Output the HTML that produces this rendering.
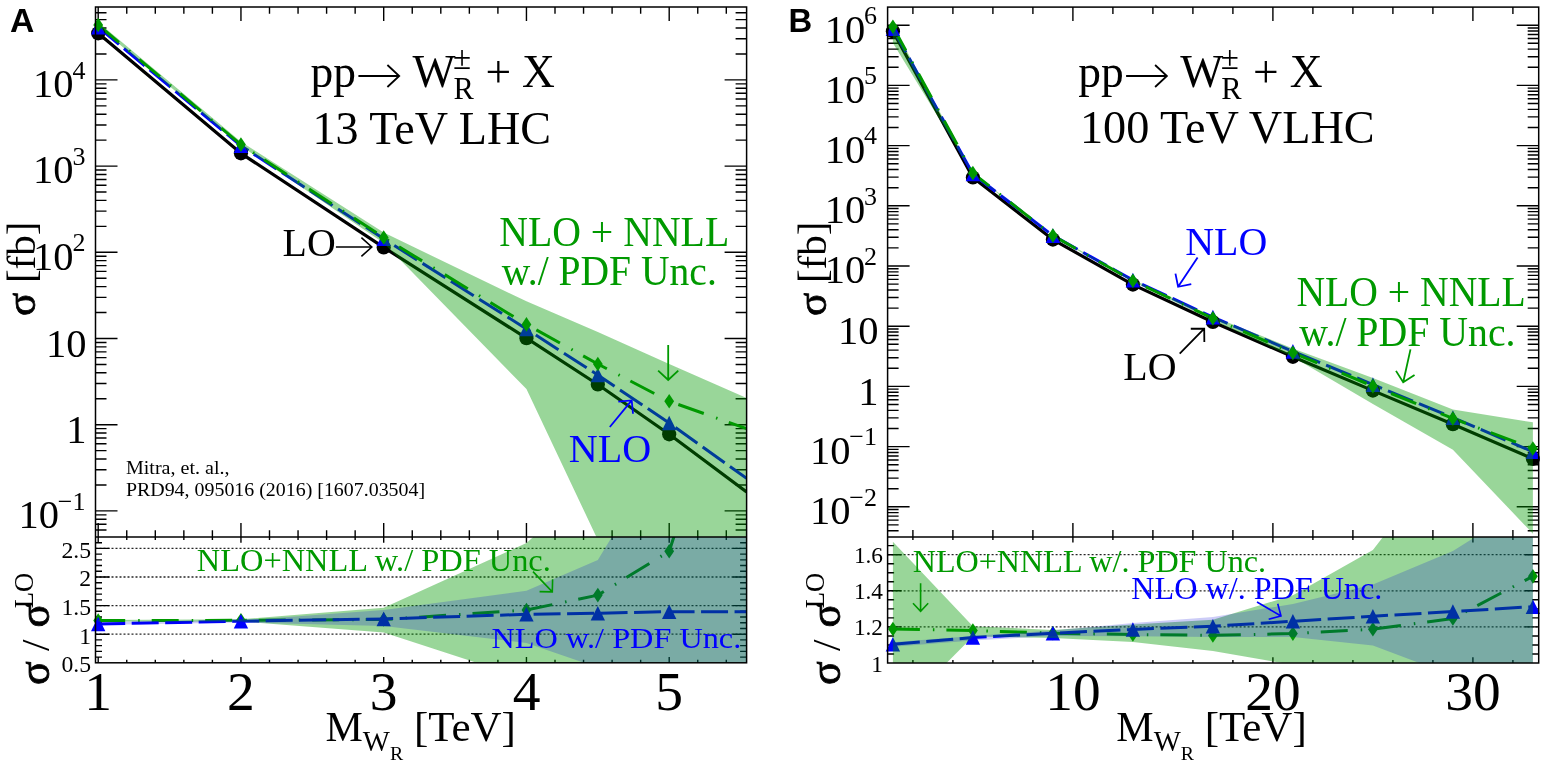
<!DOCTYPE html>
<html><head><meta charset="utf-8"><style>
html,body{margin:0;padding:0;background:#fff;overflow:hidden;width:1547px;height:767px;}
svg{display:block;}
text{font-family:'Liberation Serif','DejaVu Serif',serif;}
</style></head><body>
<svg width="1547" height="767" viewBox="0 0 1547 767">
<rect width="1547" height="767" fill="#fff"/>
<clipPath id="Lu"><rect x="95.5" y="7" width="651.1" height="530"/></clipPath>
<clipPath id="Ll"><rect x="95.5" y="537" width="651.1" height="125.79999999999995"/></clipPath>
<line x1="95.50" y1="634.20" x2="746.60" y2="634.20" stroke="#000" stroke-width="1.3" stroke-dasharray="2 2" opacity="0.85"/>
<line x1="95.50" y1="605.60" x2="746.60" y2="605.60" stroke="#000" stroke-width="1.3" stroke-dasharray="2 2" opacity="0.85"/>
<line x1="95.50" y1="577.00" x2="746.60" y2="577.00" stroke="#000" stroke-width="1.3" stroke-dasharray="2 2" opacity="0.85"/>
<line x1="95.50" y1="548.40" x2="746.60" y2="548.40" stroke="#000" stroke-width="1.3" stroke-dasharray="2 2" opacity="0.85"/>
<path d="M95.50,530.02L106.50,530.02 M746.60,530.02L735.60,530.02 M95.50,524.25L106.50,524.25 M746.60,524.25L735.60,524.25 M95.50,519.25L106.50,519.25 M746.60,519.25L735.60,519.25 M95.50,514.84L106.50,514.84 M746.60,514.84L735.60,514.84 M95.50,510.90L117.50,510.90 M746.60,510.90L724.60,510.90 M95.50,484.95L106.50,484.95 M746.60,484.95L735.60,484.95 M95.50,469.77L106.50,469.77 M746.60,469.77L735.60,469.77 M95.50,459.00L106.50,459.00 M746.60,459.00L735.60,459.00 M95.50,450.65L106.50,450.65 M746.60,450.65L735.60,450.65 M95.50,443.82L106.50,443.82 M746.60,443.82L735.60,443.82 M95.50,438.05L106.50,438.05 M746.60,438.05L735.60,438.05 M95.50,433.05L106.50,433.05 M746.60,433.05L735.60,433.05 M95.50,428.64L106.50,428.64 M746.60,428.64L735.60,428.64 M95.50,424.70L117.50,424.70 M746.60,424.70L724.60,424.70 M95.50,398.75L106.50,398.75 M746.60,398.75L735.60,398.75 M95.50,383.57L106.50,383.57 M746.60,383.57L735.60,383.57 M95.50,372.80L106.50,372.80 M746.60,372.80L735.60,372.80 M95.50,364.45L106.50,364.45 M746.60,364.45L735.60,364.45 M95.50,357.62L106.50,357.62 M746.60,357.62L735.60,357.62 M95.50,351.85L106.50,351.85 M746.60,351.85L735.60,351.85 M95.50,346.85L106.50,346.85 M746.60,346.85L735.60,346.85 M95.50,342.44L106.50,342.44 M746.60,342.44L735.60,342.44 M95.50,338.50L117.50,338.50 M746.60,338.50L724.60,338.50 M95.50,312.55L106.50,312.55 M746.60,312.55L735.60,312.55 M95.50,297.37L106.50,297.37 M746.60,297.37L735.60,297.37 M95.50,286.60L106.50,286.60 M746.60,286.60L735.60,286.60 M95.50,278.25L106.50,278.25 M746.60,278.25L735.60,278.25 M95.50,271.42L106.50,271.42 M746.60,271.42L735.60,271.42 M95.50,265.65L106.50,265.65 M746.60,265.65L735.60,265.65 M95.50,260.65L106.50,260.65 M746.60,260.65L735.60,260.65 M95.50,256.24L106.50,256.24 M746.60,256.24L735.60,256.24 M95.50,252.30L117.50,252.30 M746.60,252.30L724.60,252.30 M95.50,226.35L106.50,226.35 M746.60,226.35L735.60,226.35 M95.50,211.17L106.50,211.17 M746.60,211.17L735.60,211.17 M95.50,200.40L106.50,200.40 M746.60,200.40L735.60,200.40 M95.50,192.05L106.50,192.05 M746.60,192.05L735.60,192.05 M95.50,185.22L106.50,185.22 M746.60,185.22L735.60,185.22 M95.50,179.45L106.50,179.45 M746.60,179.45L735.60,179.45 M95.50,174.45L106.50,174.45 M746.60,174.45L735.60,174.45 M95.50,170.04L106.50,170.04 M746.60,170.04L735.60,170.04 M95.50,166.10L117.50,166.10 M746.60,166.10L724.60,166.10 M95.50,140.15L106.50,140.15 M746.60,140.15L735.60,140.15 M95.50,124.97L106.50,124.97 M746.60,124.97L735.60,124.97 M95.50,114.20L106.50,114.20 M746.60,114.20L735.60,114.20 M95.50,105.85L106.50,105.85 M746.60,105.85L735.60,105.85 M95.50,99.02L106.50,99.02 M746.60,99.02L735.60,99.02 M95.50,93.25L106.50,93.25 M746.60,93.25L735.60,93.25 M95.50,88.25L106.50,88.25 M746.60,88.25L735.60,88.25 M95.50,83.84L106.50,83.84 M746.60,83.84L735.60,83.84 M95.50,79.90L117.50,79.90 M746.60,79.90L724.60,79.90 M95.50,53.95L106.50,53.95 M746.60,53.95L735.60,53.95 M95.50,38.77L106.50,38.77 M746.60,38.77L735.60,38.77 M95.50,28.00L106.50,28.00 M746.60,28.00L735.60,28.00 M95.50,19.65L106.50,19.65 M746.60,19.65L735.60,19.65 M95.50,12.82L106.50,12.82 M746.60,12.82L735.60,12.82 M95.50,657.08L102.00,657.08 M746.60,657.08L740.10,657.08 M95.50,651.36L102.00,651.36 M746.60,651.36L740.10,651.36 M95.50,645.64L102.00,645.64 M746.60,645.64L740.10,645.64 M95.50,639.92L102.00,639.92 M746.60,639.92L740.10,639.92 M95.50,634.20L109.50,634.20 M746.60,634.20L732.60,634.20 M95.50,628.48L102.00,628.48 M746.60,628.48L740.10,628.48 M95.50,622.76L102.00,622.76 M746.60,622.76L740.10,622.76 M95.50,617.04L102.00,617.04 M746.60,617.04L740.10,617.04 M95.50,611.32L102.00,611.32 M746.60,611.32L740.10,611.32 M95.50,605.60L109.50,605.60 M746.60,605.60L732.60,605.60 M95.50,599.88L102.00,599.88 M746.60,599.88L740.10,599.88 M95.50,594.16L102.00,594.16 M746.60,594.16L740.10,594.16 M95.50,588.44L102.00,588.44 M746.60,588.44L740.10,588.44 M95.50,582.72L102.00,582.72 M746.60,582.72L740.10,582.72 M95.50,577.00L109.50,577.00 M746.60,577.00L732.60,577.00 M95.50,571.28L102.00,571.28 M746.60,571.28L740.10,571.28 M95.50,565.56L102.00,565.56 M746.60,565.56L740.10,565.56 M95.50,559.84L102.00,559.84 M746.60,559.84L740.10,559.84 M95.50,554.12L102.00,554.12 M746.60,554.12L740.10,554.12 M95.50,548.40L109.50,548.40 M746.60,548.40L732.60,548.40 M95.50,542.68L102.00,542.68 M746.60,542.68L740.10,542.68 M98.20,7.00L98.20,21.00 M98.20,537.00L98.20,523.00 M98.20,537.00L98.20,542.70 M98.20,662.80L98.20,657.10 M126.75,7.00L126.75,13.80 M126.75,537.00L126.75,530.20 M126.75,537.00L126.75,540.00 M126.75,662.80L126.75,659.80 M155.30,7.00L155.30,13.80 M155.30,537.00L155.30,530.20 M155.30,537.00L155.30,540.00 M155.30,662.80L155.30,659.80 M183.85,7.00L183.85,13.80 M183.85,537.00L183.85,530.20 M183.85,537.00L183.85,540.00 M183.85,662.80L183.85,659.80 M212.40,7.00L212.40,13.80 M212.40,537.00L212.40,530.20 M212.40,537.00L212.40,540.00 M212.40,662.80L212.40,659.80 M240.95,7.00L240.95,21.00 M240.95,537.00L240.95,523.00 M240.95,537.00L240.95,542.70 M240.95,662.80L240.95,657.10 M269.50,7.00L269.50,13.80 M269.50,537.00L269.50,530.20 M269.50,537.00L269.50,540.00 M269.50,662.80L269.50,659.80 M298.05,7.00L298.05,13.80 M298.05,537.00L298.05,530.20 M298.05,537.00L298.05,540.00 M298.05,662.80L298.05,659.80 M326.60,7.00L326.60,13.80 M326.60,537.00L326.60,530.20 M326.60,537.00L326.60,540.00 M326.60,662.80L326.60,659.80 M355.15,7.00L355.15,13.80 M355.15,537.00L355.15,530.20 M355.15,537.00L355.15,540.00 M355.15,662.80L355.15,659.80 M383.70,7.00L383.70,21.00 M383.70,537.00L383.70,523.00 M383.70,537.00L383.70,542.70 M383.70,662.80L383.70,657.10 M412.25,7.00L412.25,13.80 M412.25,537.00L412.25,530.20 M412.25,537.00L412.25,540.00 M412.25,662.80L412.25,659.80 M440.80,7.00L440.80,13.80 M440.80,537.00L440.80,530.20 M440.80,537.00L440.80,540.00 M440.80,662.80L440.80,659.80 M469.35,7.00L469.35,13.80 M469.35,537.00L469.35,530.20 M469.35,537.00L469.35,540.00 M469.35,662.80L469.35,659.80 M497.90,7.00L497.90,13.80 M497.90,537.00L497.90,530.20 M497.90,537.00L497.90,540.00 M497.90,662.80L497.90,659.80 M526.45,7.00L526.45,21.00 M526.45,537.00L526.45,523.00 M526.45,537.00L526.45,542.70 M526.45,662.80L526.45,657.10 M555.00,7.00L555.00,13.80 M555.00,537.00L555.00,530.20 M555.00,537.00L555.00,540.00 M555.00,662.80L555.00,659.80 M583.55,7.00L583.55,13.80 M583.55,537.00L583.55,530.20 M583.55,537.00L583.55,540.00 M583.55,662.80L583.55,659.80 M612.10,7.00L612.10,13.80 M612.10,537.00L612.10,530.20 M612.10,537.00L612.10,540.00 M612.10,662.80L612.10,659.80 M640.65,7.00L640.65,13.80 M640.65,537.00L640.65,530.20 M640.65,537.00L640.65,540.00 M640.65,662.80L640.65,659.80 M669.20,7.00L669.20,21.00 M669.20,537.00L669.20,523.00 M669.20,537.00L669.20,542.70 M669.20,662.80L669.20,657.10 M697.75,7.00L697.75,13.80 M697.75,537.00L697.75,530.20 M697.75,537.00L697.75,540.00 M697.75,662.80L697.75,659.80 M726.30,7.00L726.30,13.80 M726.30,537.00L726.30,530.20 M726.30,537.00L726.30,540.00 M726.30,662.80L726.30,659.80" stroke="#000" stroke-width="1.4" fill="none"/>
<g clip-path="url(#Lu)">
<polyline points="98.20,33.30 240.95,153.30 383.70,247.40 526.45,338.20 597.83,384.50 669.20,434.30 746.60,492.00" fill="none" stroke="#000" stroke-width="3.2" stroke-linejoin="round" />
<polyline points="98.20,27.10 240.95,145.80 383.70,238.80 526.45,329.00 597.83,375.00 669.20,423.00 746.60,478.40" fill="none" stroke="#0000ff" stroke-width="3" stroke-dasharray="27 6.5" stroke-linejoin="round" />
<polyline points="98.20,25.00 240.95,144.60 383.70,237.50 526.45,324.40 597.83,364.00 669.20,401.30 746.60,428.60" fill="none" stroke="#009900" stroke-width="3" stroke-dasharray="27 13 1.5 12" stroke-linejoin="round" />
</g>
<circle cx="98.20" cy="33.30" r="7.1" fill="#000"/>
<circle cx="240.95" cy="153.30" r="7.1" fill="#000"/>
<circle cx="383.70" cy="247.40" r="7.1" fill="#000"/>
<circle cx="526.45" cy="338.20" r="7.1" fill="#000"/>
<circle cx="597.83" cy="384.50" r="7.1" fill="#000"/>
<circle cx="669.20" cy="434.30" r="7.1" fill="#000"/>
<polygon points="91.00,34.40 105.40,34.40 98.20,19.80" fill="#0000ff" stroke="none" />
<polygon points="233.75,153.10 248.15,153.10 240.95,138.50" fill="#0000ff" stroke="none" />
<polygon points="376.50,246.10 390.90,246.10 383.70,231.50" fill="#0000ff" stroke="none" />
<polygon points="519.25,336.30 533.65,336.30 526.45,321.70" fill="#0000ff" stroke="none" />
<polygon points="590.62,382.30 605.03,382.30 597.83,367.70" fill="#0000ff" stroke="none" />
<polygon points="662.00,430.30 676.40,430.30 669.20,415.70" fill="#0000ff" stroke="none" />
<polygon points="98.20,17.70 103.10,25.00 98.20,32.30 93.30,25.00" fill="#009900" stroke="none" />
<polygon points="240.95,137.30 245.85,144.60 240.95,151.90 236.05,144.60" fill="#009900" stroke="none" />
<polygon points="383.70,230.20 388.60,237.50 383.70,244.80 378.80,237.50" fill="#009900" stroke="none" />
<polygon points="526.45,317.10 531.35,324.40 526.45,331.70 521.55,324.40" fill="#009900" stroke="none" />
<polygon points="597.83,356.70 602.73,364.00 597.83,371.30 592.93,364.00" fill="#009900" stroke="none" />
<polygon points="669.20,394.00 674.10,401.30 669.20,408.60 664.30,401.30" fill="#009900" stroke="none" />
<g clip-path="url(#Lu)">
<polygon points="98.20,22.20 240.95,141.80 383.70,232.60 526.45,301.30 597.83,332.00 669.20,364.00 746.60,398.00 746.60,800.00 669.20,700.00 597.83,540.00 526.45,389.00 383.70,243.00 240.95,146.00 98.20,26.50" fill="rgba(0,153,0,0.4)" stroke="none" />
</g>
<g clip-path="url(#Ll)">
<polyline points="98.20,620.60 240.95,620.30 383.70,619.50 526.45,610.00 597.83,595.10 669.20,551.30 746.60,312.00" fill="none" stroke="#009900" stroke-width="3" stroke-dasharray="27 13 1.5 12" stroke-linejoin="round" />
</g>
<polygon points="98.20,613.30 103.10,620.60 98.20,627.90 93.30,620.60" fill="#009900" stroke="none" />
<polygon points="240.95,613.00 245.85,620.30 240.95,627.60 236.05,620.30" fill="#009900" stroke="none" />
<polygon points="383.70,612.20 388.60,619.50 383.70,626.80 378.80,619.50" fill="#009900" stroke="none" />
<polygon points="526.45,602.70 531.35,610.00 526.45,617.30 521.55,610.00" fill="#009900" stroke="none" />
<polygon points="597.83,587.80 602.73,595.10 597.83,602.40 592.93,595.10" fill="#009900" stroke="none" />
<polygon points="669.20,544.00 674.10,551.30 669.20,558.60 664.30,551.30" fill="#009900" stroke="none" />
<g clip-path="url(#Ll)">
<polyline points="98.20,624.00 240.95,621.20 383.70,618.90 526.45,614.30 597.83,613.20 669.20,611.70 746.60,611.70" fill="none" stroke="#0000ff" stroke-width="3" stroke-dasharray="27 6.5" stroke-linejoin="round" />
</g>
<polygon points="91.00,631.30 105.40,631.30 98.20,616.70" fill="#0000ff" stroke="none" />
<polygon points="233.75,628.50 248.15,628.50 240.95,613.90" fill="#0000ff" stroke="none" />
<polygon points="376.50,626.20 390.90,626.20 383.70,611.60" fill="#0000ff" stroke="none" />
<polygon points="519.25,621.60 533.65,621.60 526.45,607.00" fill="#0000ff" stroke="none" />
<polygon points="590.62,620.50 605.03,620.50 597.83,605.90" fill="#0000ff" stroke="none" />
<polygon points="662.00,619.00 676.40,619.00 669.20,604.40" fill="#0000ff" stroke="none" />
<g clip-path="url(#Ll)">
<polygon points="98.20,620.00 240.95,619.30 383.70,607.80 526.45,543.00 597.83,480.00 669.20,300.00 746.60,200.00 746.60,800.00 669.20,750.00 597.83,700.00 526.45,679.00 383.70,632.50 240.95,621.50 98.20,621.50" fill="rgba(0,153,0,0.4)" stroke="none" />
<polygon points="98.20,622.00 240.95,620.50 383.70,610.00 526.45,590.80 597.83,559.90 669.20,443.00 746.60,300.00 746.60,750.00 669.20,700.00 597.83,667.50 526.45,643.00 383.70,626.00 240.95,622.50 98.20,625.00" fill="rgba(0,0,213,0.2)" stroke="none" />
</g>
<rect x="95.5" y="7" width="651.1" height="655.8" fill="none" stroke="#000" stroke-width="1.5"/>
<line x1="95.50" y1="537.00" x2="746.60" y2="537.00" stroke="#000" stroke-width="1.5" />
<clipPath id="Ru"><rect x="887.6" y="7.1" width="651.1" height="529.8"/></clipPath>
<clipPath id="Rl"><rect x="887.6" y="536.9" width="651.1" height="126.10000000000002"/></clipPath>
<line x1="887.60" y1="626.90" x2="1538.70" y2="626.90" stroke="#000" stroke-width="1.3" stroke-dasharray="2 2" opacity="0.85"/>
<line x1="887.60" y1="590.80" x2="1538.70" y2="590.80" stroke="#000" stroke-width="1.3" stroke-dasharray="2 2" opacity="0.85"/>
<line x1="887.60" y1="554.70" x2="1538.70" y2="554.70" stroke="#000" stroke-width="1.3" stroke-dasharray="2 2" opacity="0.85"/>
<path d="M887.60,530.76L898.60,530.76 M1538.70,530.76L1527.70,530.76 M887.60,524.92L898.60,524.92 M1538.70,524.92L1527.70,524.92 M887.60,520.16L898.60,520.16 M1538.70,520.16L1527.70,520.16 M887.60,516.13L898.60,516.13 M1538.70,516.13L1527.70,516.13 M887.60,512.63L898.60,512.63 M1538.70,512.63L1527.70,512.63 M887.60,509.55L898.60,509.55 M1538.70,509.55L1527.70,509.55 M887.60,506.80L909.60,506.80 M1538.70,506.80L1516.70,506.80 M887.60,488.68L898.60,488.68 M1538.70,488.68L1527.70,488.68 M887.60,478.08L898.60,478.08 M1538.70,478.08L1527.70,478.08 M887.60,470.56L898.60,470.56 M1538.70,470.56L1527.70,470.56 M887.60,464.72L898.60,464.72 M1538.70,464.72L1527.70,464.72 M887.60,459.96L898.60,459.96 M1538.70,459.96L1527.70,459.96 M887.60,455.93L898.60,455.93 M1538.70,455.93L1527.70,455.93 M887.60,452.43L898.60,452.43 M1538.70,452.43L1527.70,452.43 M887.60,449.35L898.60,449.35 M1538.70,449.35L1527.70,449.35 M887.60,446.60L909.60,446.60 M1538.70,446.60L1516.70,446.60 M887.60,428.48L898.60,428.48 M1538.70,428.48L1527.70,428.48 M887.60,417.88L898.60,417.88 M1538.70,417.88L1527.70,417.88 M887.60,410.36L898.60,410.36 M1538.70,410.36L1527.70,410.36 M887.60,404.52L898.60,404.52 M1538.70,404.52L1527.70,404.52 M887.60,399.76L898.60,399.76 M1538.70,399.76L1527.70,399.76 M887.60,395.73L898.60,395.73 M1538.70,395.73L1527.70,395.73 M887.60,392.23L898.60,392.23 M1538.70,392.23L1527.70,392.23 M887.60,389.15L898.60,389.15 M1538.70,389.15L1527.70,389.15 M887.60,386.40L909.60,386.40 M1538.70,386.40L1516.70,386.40 M887.60,368.28L898.60,368.28 M1538.70,368.28L1527.70,368.28 M887.60,357.68L898.60,357.68 M1538.70,357.68L1527.70,357.68 M887.60,350.16L898.60,350.16 M1538.70,350.16L1527.70,350.16 M887.60,344.32L898.60,344.32 M1538.70,344.32L1527.70,344.32 M887.60,339.56L898.60,339.56 M1538.70,339.56L1527.70,339.56 M887.60,335.53L898.60,335.53 M1538.70,335.53L1527.70,335.53 M887.60,332.03L898.60,332.03 M1538.70,332.03L1527.70,332.03 M887.60,328.95L898.60,328.95 M1538.70,328.95L1527.70,328.95 M887.60,326.20L909.60,326.20 M1538.70,326.20L1516.70,326.20 M887.60,308.08L898.60,308.08 M1538.70,308.08L1527.70,308.08 M887.60,297.48L898.60,297.48 M1538.70,297.48L1527.70,297.48 M887.60,289.96L898.60,289.96 M1538.70,289.96L1527.70,289.96 M887.60,284.12L898.60,284.12 M1538.70,284.12L1527.70,284.12 M887.60,279.36L898.60,279.36 M1538.70,279.36L1527.70,279.36 M887.60,275.33L898.60,275.33 M1538.70,275.33L1527.70,275.33 M887.60,271.83L898.60,271.83 M1538.70,271.83L1527.70,271.83 M887.60,268.75L898.60,268.75 M1538.70,268.75L1527.70,268.75 M887.60,266.00L909.60,266.00 M1538.70,266.00L1516.70,266.00 M887.60,247.88L898.60,247.88 M1538.70,247.88L1527.70,247.88 M887.60,237.28L898.60,237.28 M1538.70,237.28L1527.70,237.28 M887.60,229.76L898.60,229.76 M1538.70,229.76L1527.70,229.76 M887.60,223.92L898.60,223.92 M1538.70,223.92L1527.70,223.92 M887.60,219.16L898.60,219.16 M1538.70,219.16L1527.70,219.16 M887.60,215.13L898.60,215.13 M1538.70,215.13L1527.70,215.13 M887.60,211.63L898.60,211.63 M1538.70,211.63L1527.70,211.63 M887.60,208.55L898.60,208.55 M1538.70,208.55L1527.70,208.55 M887.60,205.80L909.60,205.80 M1538.70,205.80L1516.70,205.80 M887.60,187.68L898.60,187.68 M1538.70,187.68L1527.70,187.68 M887.60,177.08L898.60,177.08 M1538.70,177.08L1527.70,177.08 M887.60,169.56L898.60,169.56 M1538.70,169.56L1527.70,169.56 M887.60,163.72L898.60,163.72 M1538.70,163.72L1527.70,163.72 M887.60,158.96L898.60,158.96 M1538.70,158.96L1527.70,158.96 M887.60,154.93L898.60,154.93 M1538.70,154.93L1527.70,154.93 M887.60,151.43L898.60,151.43 M1538.70,151.43L1527.70,151.43 M887.60,148.35L898.60,148.35 M1538.70,148.35L1527.70,148.35 M887.60,145.60L909.60,145.60 M1538.70,145.60L1516.70,145.60 M887.60,127.48L898.60,127.48 M1538.70,127.48L1527.70,127.48 M887.60,116.88L898.60,116.88 M1538.70,116.88L1527.70,116.88 M887.60,109.36L898.60,109.36 M1538.70,109.36L1527.70,109.36 M887.60,103.52L898.60,103.52 M1538.70,103.52L1527.70,103.52 M887.60,98.76L898.60,98.76 M1538.70,98.76L1527.70,98.76 M887.60,94.73L898.60,94.73 M1538.70,94.73L1527.70,94.73 M887.60,91.23L898.60,91.23 M1538.70,91.23L1527.70,91.23 M887.60,88.15L898.60,88.15 M1538.70,88.15L1527.70,88.15 M887.60,85.40L909.60,85.40 M1538.70,85.40L1516.70,85.40 M887.60,67.28L898.60,67.28 M1538.70,67.28L1527.70,67.28 M887.60,56.68L898.60,56.68 M1538.70,56.68L1527.70,56.68 M887.60,49.16L898.60,49.16 M1538.70,49.16L1527.70,49.16 M887.60,43.32L898.60,43.32 M1538.70,43.32L1527.70,43.32 M887.60,38.56L898.60,38.56 M1538.70,38.56L1527.70,38.56 M887.60,34.53L898.60,34.53 M1538.70,34.53L1527.70,34.53 M887.60,31.03L898.60,31.03 M1538.70,31.03L1527.70,31.03 M887.60,27.95L898.60,27.95 M1538.70,27.95L1527.70,27.95 M887.60,25.20L909.60,25.20 M1538.70,25.20L1516.70,25.20 M887.60,653.98L894.10,653.98 M1538.70,653.98L1532.20,653.98 M887.60,644.95L894.10,644.95 M1538.70,644.95L1532.20,644.95 M887.60,635.93L894.10,635.93 M1538.70,635.93L1532.20,635.93 M887.60,626.90L901.60,626.90 M1538.70,626.90L1524.70,626.90 M887.60,617.88L894.10,617.88 M1538.70,617.88L1532.20,617.88 M887.60,608.85L894.10,608.85 M1538.70,608.85L1532.20,608.85 M887.60,599.82L894.10,599.82 M1538.70,599.82L1532.20,599.82 M887.60,590.80L901.60,590.80 M1538.70,590.80L1524.70,590.80 M887.60,581.77L894.10,581.77 M1538.70,581.77L1532.20,581.77 M887.60,572.75L894.10,572.75 M1538.70,572.75L1532.20,572.75 M887.60,563.73L894.10,563.73 M1538.70,563.73L1532.20,563.73 M887.60,554.70L901.60,554.70 M1538.70,554.70L1524.70,554.70 M887.60,545.67L894.10,545.67 M1538.70,545.67L1532.20,545.67 M912.90,7.10L912.90,13.90 M912.90,536.90L912.90,530.10 M912.90,536.90L912.90,539.90 M912.90,663.00L912.90,660.00 M952.90,7.10L952.90,13.90 M952.90,536.90L952.90,530.10 M952.90,536.90L952.90,539.90 M952.90,663.00L952.90,660.00 M992.90,7.10L992.90,13.90 M992.90,536.90L992.90,530.10 M992.90,536.90L992.90,539.90 M992.90,663.00L992.90,660.00 M1032.90,7.10L1032.90,13.90 M1032.90,536.90L1032.90,530.10 M1032.90,536.90L1032.90,539.90 M1032.90,663.00L1032.90,660.00 M1072.90,7.10L1072.90,21.10 M1072.90,536.90L1072.90,522.90 M1072.90,536.90L1072.90,542.60 M1072.90,663.00L1072.90,657.30 M1112.90,7.10L1112.90,13.90 M1112.90,536.90L1112.90,530.10 M1112.90,536.90L1112.90,539.90 M1112.90,663.00L1112.90,660.00 M1152.90,7.10L1152.90,13.90 M1152.90,536.90L1152.90,530.10 M1152.90,536.90L1152.90,539.90 M1152.90,663.00L1152.90,660.00 M1192.90,7.10L1192.90,13.90 M1192.90,536.90L1192.90,530.10 M1192.90,536.90L1192.90,539.90 M1192.90,663.00L1192.90,660.00 M1232.90,7.10L1232.90,13.90 M1232.90,536.90L1232.90,530.10 M1232.90,536.90L1232.90,539.90 M1232.90,663.00L1232.90,660.00 M1272.90,7.10L1272.90,21.10 M1272.90,536.90L1272.90,522.90 M1272.90,536.90L1272.90,542.60 M1272.90,663.00L1272.90,657.30 M1312.90,7.10L1312.90,13.90 M1312.90,536.90L1312.90,530.10 M1312.90,536.90L1312.90,539.90 M1312.90,663.00L1312.90,660.00 M1352.90,7.10L1352.90,13.90 M1352.90,536.90L1352.90,530.10 M1352.90,536.90L1352.90,539.90 M1352.90,663.00L1352.90,660.00 M1392.90,7.10L1392.90,13.90 M1392.90,536.90L1392.90,530.10 M1392.90,536.90L1392.90,539.90 M1392.90,663.00L1392.90,660.00 M1432.90,7.10L1432.90,13.90 M1432.90,536.90L1432.90,530.10 M1432.90,536.90L1432.90,539.90 M1432.90,663.00L1432.90,660.00 M1472.90,7.10L1472.90,21.10 M1472.90,536.90L1472.90,522.90 M1472.90,536.90L1472.90,542.60 M1472.90,663.00L1472.90,657.30 M1512.90,7.10L1512.90,13.90 M1512.90,536.90L1512.90,530.10 M1512.90,536.90L1512.90,539.90 M1512.90,663.00L1512.90,660.00" stroke="#000" stroke-width="1.4" fill="none"/>
<g clip-path="url(#Ru)">
<polyline points="892.90,31.30 972.90,177.50 1052.90,239.60 1132.90,284.60 1212.90,322.00 1292.90,356.80 1372.90,390.60 1452.90,424.20 1532.90,458.80" fill="none" stroke="#000" stroke-width="3.2" stroke-linejoin="round" />
<polyline points="892.90,28.71 972.90,174.05 1052.90,235.61 1132.90,280.14 1212.90,317.15 1292.90,351.37 1372.90,384.58 1452.90,417.64 1532.90,451.70" fill="none" stroke="#0000ff" stroke-width="3" stroke-dasharray="27 6.5" stroke-linejoin="round" />
<polyline points="892.90,26.80 972.90,173.17 1052.90,235.61 1132.90,280.76 1212.90,318.28 1292.90,352.85 1372.90,386.12 1452.90,418.43 1532.90,448.55" fill="none" stroke="#009900" stroke-width="3" stroke-dasharray="27 13 1.5 12" stroke-linejoin="round" />
</g>
<circle cx="892.90" cy="31.30" r="7.1" fill="#000"/>
<circle cx="972.90" cy="177.50" r="7.1" fill="#000"/>
<circle cx="1052.90" cy="239.60" r="7.1" fill="#000"/>
<circle cx="1132.90" cy="284.60" r="7.1" fill="#000"/>
<circle cx="1212.90" cy="322.00" r="7.1" fill="#000"/>
<circle cx="1292.90" cy="356.80" r="7.1" fill="#000"/>
<circle cx="1372.90" cy="390.60" r="7.1" fill="#000"/>
<circle cx="1452.90" cy="424.20" r="7.1" fill="#000"/>
<circle cx="1532.90" cy="458.80" r="7.1" fill="#000"/>
<polygon points="885.70,36.01 900.10,36.01 892.90,21.41" fill="#0000ff" stroke="none" />
<polygon points="965.70,181.35 980.10,181.35 972.90,166.75" fill="#0000ff" stroke="none" />
<polygon points="1045.70,242.91 1060.10,242.91 1052.90,228.31" fill="#0000ff" stroke="none" />
<polygon points="1125.70,287.44 1140.10,287.44 1132.90,272.84" fill="#0000ff" stroke="none" />
<polygon points="1205.70,324.45 1220.10,324.45 1212.90,309.85" fill="#0000ff" stroke="none" />
<polygon points="1285.70,358.67 1300.10,358.67 1292.90,344.07" fill="#0000ff" stroke="none" />
<polygon points="1365.70,391.88 1380.10,391.88 1372.90,377.28" fill="#0000ff" stroke="none" />
<polygon points="1445.70,424.94 1460.10,424.94 1452.90,410.34" fill="#0000ff" stroke="none" />
<polygon points="1525.70,459.00 1540.10,459.00 1532.90,444.40" fill="#0000ff" stroke="none" />
<polygon points="892.90,19.50 897.80,26.80 892.90,34.10 888.00,26.80" fill="#009900" stroke="none" />
<polygon points="972.90,165.87 977.80,173.17 972.90,180.47 968.00,173.17" fill="#009900" stroke="none" />
<polygon points="1052.90,228.31 1057.80,235.61 1052.90,242.91 1048.00,235.61" fill="#009900" stroke="none" />
<polygon points="1132.90,273.46 1137.80,280.76 1132.90,288.06 1128.00,280.76" fill="#009900" stroke="none" />
<polygon points="1212.90,310.98 1217.80,318.28 1212.90,325.58 1208.00,318.28" fill="#009900" stroke="none" />
<polygon points="1292.90,345.55 1297.80,352.85 1292.90,360.15 1288.00,352.85" fill="#009900" stroke="none" />
<polygon points="1372.90,378.82 1377.80,386.12 1372.90,393.42 1368.00,386.12" fill="#009900" stroke="none" />
<polygon points="1452.90,411.13 1457.80,418.43 1452.90,425.73 1448.00,418.43" fill="#009900" stroke="none" />
<polygon points="1532.90,441.25 1537.80,448.55 1532.90,455.85 1528.00,448.55" fill="#009900" stroke="none" />
<g clip-path="url(#Ru)">
<polygon points="892.90,25.47 972.90,172.65 1052.90,235.21 1132.90,279.55 1212.90,316.38 1292.90,348.46 1372.90,377.89 1452.90,409.57 1532.90,422.30 1532.90,533.70 1452.90,449.70 1372.90,403.96 1292.90,357.06 1212.90,320.33 1132.90,281.73 1052.90,236.20 972.90,173.91 892.90,42.97" fill="rgba(0,153,0,0.4)" stroke="none" />
</g>
<g clip-path="url(#Rl)">
<polyline points="892.90,629.07 972.90,630.51 1052.90,633.22 1132.90,634.48 1212.90,635.38 1292.90,633.58 1372.90,629.25 1452.90,618.42 1532.90,576.36" fill="none" stroke="#009900" stroke-width="3" stroke-dasharray="27 13 1.5 12" stroke-linejoin="round" />
</g>
<polygon points="892.90,621.77 897.80,629.07 892.90,636.37 888.00,629.07" fill="#009900" stroke="none" />
<polygon points="972.90,623.21 977.80,630.51 972.90,637.81 968.00,630.51" fill="#009900" stroke="none" />
<polygon points="1052.90,625.92 1057.80,633.22 1052.90,640.52 1048.00,633.22" fill="#009900" stroke="none" />
<polygon points="1132.90,627.18 1137.80,634.48 1132.90,641.78 1128.00,634.48" fill="#009900" stroke="none" />
<polygon points="1212.90,628.08 1217.80,635.38 1212.90,642.68 1208.00,635.38" fill="#009900" stroke="none" />
<polygon points="1292.90,626.28 1297.80,633.58 1292.90,640.88 1288.00,633.58" fill="#009900" stroke="none" />
<polygon points="1372.90,621.95 1377.80,629.25 1372.90,636.55 1368.00,629.25" fill="#009900" stroke="none" />
<polygon points="1452.90,611.12 1457.80,618.42 1452.90,625.72 1448.00,618.42" fill="#009900" stroke="none" />
<polygon points="1532.90,569.06 1537.80,576.36 1532.90,583.66 1528.00,576.36" fill="#009900" stroke="none" />
<g clip-path="url(#Rl)">
<polyline points="892.90,644.23 972.90,637.55 1052.90,633.22 1132.90,629.43 1212.90,626.18 1292.90,621.30 1372.90,616.25 1452.90,611.56 1532.90,606.68" fill="none" stroke="#0000ff" stroke-width="3" stroke-dasharray="27 6.5" stroke-linejoin="round" />
</g>
<polygon points="885.70,651.53 900.10,651.53 892.90,636.93" fill="#0000ff" stroke="none" />
<polygon points="965.70,644.85 980.10,644.85 972.90,630.25" fill="#0000ff" stroke="none" />
<polygon points="1045.70,640.52 1060.10,640.52 1052.90,625.92" fill="#0000ff" stroke="none" />
<polygon points="1125.70,636.73 1140.10,636.73 1132.90,622.13" fill="#0000ff" stroke="none" />
<polygon points="1205.70,633.48 1220.10,633.48 1212.90,618.88" fill="#0000ff" stroke="none" />
<polygon points="1285.70,628.60 1300.10,628.60 1292.90,614.00" fill="#0000ff" stroke="none" />
<polygon points="1365.70,623.55 1380.10,623.55 1372.90,608.95" fill="#0000ff" stroke="none" />
<polygon points="1445.70,618.86 1460.10,618.86 1452.90,604.26" fill="#0000ff" stroke="none" />
<polygon points="1525.70,613.98 1540.10,613.98 1532.90,599.38" fill="#0000ff" stroke="none" />
<g clip-path="url(#Rl)">
<polygon points="892.90,541.70 972.90,626.18 1052.90,629.97 1132.90,624.55 1212.90,619.68 1292.90,595.13 1372.90,550.01 1452.90,446.40 1532.90,121.50 1532.90,833.21 1452.90,775.45 1372.90,735.20 1292.90,664.80 1212.90,651.09 1132.90,642.06 1052.90,637.91 972.90,636.47 892.90,717.15" fill="rgba(0,153,0,0.4)" stroke="none" />
<polygon points="892.90,642.24 972.90,635.93 1052.90,630.51 1132.90,622.93 1212.90,616.97 1292.90,603.98 1372.90,584.48 1452.90,551.09 1532.90,500.55 1532.90,708.12 1452.90,675.63 1372.90,645.49 1292.90,637.01 1212.90,637.01 1132.90,636.29 1052.90,635.93 972.90,640.44 892.90,646.75" fill="rgba(0,0,213,0.2)" stroke="none" />
</g>
<rect x="887.6" y="7.1" width="651.1" height="655.9" fill="none" stroke="#000" stroke-width="1.5"/>
<line x1="887.60" y1="536.90" x2="1538.70" y2="536.90" stroke="#000" stroke-width="1.5" />
<text x="10" y="32" font-size="33.7" style="font-family:'Liberation Sans',Arial,sans-serif;font-weight:bold">A</text>
<text x="788.5" y="32" font-size="32.8" style="font-family:'Liberation Sans',Arial,sans-serif;font-weight:bold">B</text>
<text x="310.6" y="87.1" font-size="45.5" fill="#000" text-anchor="start" >pp</text>
<path d="M358.40,76.00 L399.20,76.00 M387.40,86.97 L399.20,76.00 L387.40,65.03" fill="none" stroke="#000" stroke-width="1.8" stroke-linecap="butt" stroke-linejoin="miter"/>
<text x="412.6" y="87.1" font-size="45.5" fill="#000" text-anchor="start" >W</text>
<text x="453.1" y="68.8" font-size="33" fill="#000" text-anchor="start" >±</text>
<text x="453.6" y="99.3" font-size="30.5" fill="#000" text-anchor="start" >R</text>
<text x="485.4" y="87.1" font-size="45.5" fill="#000" text-anchor="start" >+</text>
<text x="554.8" y="87.1" font-size="45.5" fill="#000" text-anchor="end" >X</text>
<text x="1078.3" y="87.1" font-size="45.5" fill="#000" text-anchor="start" >pp</text>
<path d="M1126.10,76.00 L1166.90,76.00 M1155.10,86.97 L1166.90,76.00 L1155.10,65.03" fill="none" stroke="#000" stroke-width="1.8" stroke-linecap="butt" stroke-linejoin="miter"/>
<text x="1180.3" y="87.1" font-size="45.5" fill="#000" text-anchor="start" >W</text>
<text x="1220.8" y="68.8" font-size="33" fill="#000" text-anchor="start" >±</text>
<text x="1221.3" y="99.3" font-size="30.5" fill="#000" text-anchor="start" >R</text>
<text x="1253.1" y="87.1" font-size="45.5" fill="#000" text-anchor="start" >+</text>
<text x="1322.5" y="87.1" font-size="45.5" fill="#000" text-anchor="end" >X</text>
<text x="312.55" y="143.8" font-size="45.5" fill="#000" textLength="238.47" lengthAdjust="spacingAndGlyphs">13 TeV LHC</text>
<text x="1079.94" y="143.2" font-size="45.5" fill="#000" textLength="294.76" lengthAdjust="spacingAndGlyphs">100 TeV VLHC</text>
<text x="85.4" y="97.2" font-size="40.5" text-anchor="end">10<tspan font-size="26" dx="-1.2" dy="-18.5">4</tspan></text>
<text x="85.4" y="183.4" font-size="40.5" text-anchor="end">10<tspan font-size="26" dx="-1.2" dy="-18.5">3</tspan></text>
<text x="85.4" y="269.6" font-size="40.5" text-anchor="end">10<tspan font-size="26" dx="-1.2" dy="-18.5">2</tspan></text>
<text x="86.6" y="356.7" font-size="40.5" fill="#000" text-anchor="end" >10</text>
<text x="86.6" y="442.9" font-size="40.5" fill="#000" text-anchor="end" >1</text>
<text x="85.4" y="528.2" font-size="40.5" text-anchor="end">10<tspan font-size="26" dx="-1.2" dy="-18.5">−1</tspan></text>
<text x="877.0" y="42.5" font-size="40.5" text-anchor="end">10<tspan font-size="26" dx="-1.2" dy="-18.5">6</tspan></text>
<text x="877.0" y="102.7" font-size="40.5" text-anchor="end">10<tspan font-size="26" dx="-1.2" dy="-18.5">5</tspan></text>
<text x="877.0" y="162.9" font-size="40.5" text-anchor="end">10<tspan font-size="26" dx="-1.2" dy="-18.5">4</tspan></text>
<text x="877.0" y="223.1" font-size="40.5" text-anchor="end">10<tspan font-size="26" dx="-1.2" dy="-18.5">3</tspan></text>
<text x="877.0" y="283.3" font-size="40.5" text-anchor="end">10<tspan font-size="26" dx="-1.2" dy="-18.5">2</tspan></text>
<text x="878.5" y="344.4" font-size="40.5" fill="#000" text-anchor="end" >10</text>
<text x="878.5" y="404.6" font-size="40.5" fill="#000" text-anchor="end" >1</text>
<text x="877.0" y="463.9" font-size="40.5" text-anchor="end">10<tspan font-size="26" dx="-1.2" dy="-18.5">−1</tspan></text>
<text x="877.0" y="524.1" font-size="40.5" text-anchor="end">10<tspan font-size="26" dx="-1.2" dy="-18.5">−2</tspan></text>
<text x="91.0" y="672.1" font-size="23.7" fill="#000" text-anchor="end" >0.5</text>
<text x="91.0" y="643.5" font-size="23.7" fill="#000" text-anchor="end" >1</text>
<text x="91.0" y="614.9" font-size="23.7" fill="#000" text-anchor="end" >1.5</text>
<text x="91.0" y="586.3" font-size="23.7" fill="#000" text-anchor="end" >2</text>
<text x="91.0" y="557.7" font-size="23.7" fill="#000" text-anchor="end" >2.5</text>
<text x="883.0" y="671.5" font-size="23.3" fill="#000" text-anchor="end" >1</text>
<text x="883.0" y="635.4" font-size="23.3" fill="#000" text-anchor="end" >1.2</text>
<text x="883.0" y="599.3" font-size="23.3" fill="#000" text-anchor="end" >1.4</text>
<text x="883.0" y="563.2" font-size="23.3" fill="#000" text-anchor="end" >1.6</text>
<text x="98.2" y="709.8" font-size="55.5" fill="#000" text-anchor="middle" >1</text>
<text x="240.9" y="709.8" font-size="55.5" fill="#000" text-anchor="middle" >2</text>
<text x="383.7" y="709.8" font-size="55.5" fill="#000" text-anchor="middle" >3</text>
<text x="526.5" y="709.8" font-size="55.5" fill="#000" text-anchor="middle" >4</text>
<text x="669.2" y="709.8" font-size="55.5" fill="#000" text-anchor="middle" >5</text>
<text x="1072.9" y="710.3" font-size="55.4" fill="#000" text-anchor="middle" >10</text>
<text x="1272.9" y="710.3" font-size="55.4" fill="#000" text-anchor="middle" >20</text>
<text x="1472.9" y="710.3" font-size="55.4" fill="#000" text-anchor="middle" >30</text>
<text x="325.5" y="740.8" font-size="42">M<tspan font-size="28.7" dy="10.5">W</tspan><tspan font-size="19.8" dy="9">R</tspan><tspan dy="-19.5" font-size="43"> [TeV]</tspan></text>
<text x="1116.3" y="740.8" font-size="42">M<tspan font-size="28.7" dy="10.5">W</tspan><tspan font-size="19.8" dy="9">R</tspan><tspan dy="-19.5" font-size="43"> [TeV]</tspan></text>
<text transform="translate(34.5,316) rotate(-90)" font-size="41"><tspan stroke="#000" stroke-width="0.8" font-size="43">σ</tspan><tspan dx="-0.5"> [fb]</tspan></text>
<text transform="translate(826.0,316) rotate(-90)" font-size="41"><tspan stroke="#000" stroke-width="0.8" font-size="43">σ</tspan><tspan dx="-0.5"> [fb]</tspan></text>
<text transform="translate(48.5,685) rotate(-90)" font-size="41"><tspan stroke="#000" stroke-width="0.8" font-size="44">σ</tspan> / <tspan stroke="#000" stroke-width="0.8" font-size="44" dx="2">σ</tspan><tspan font-size="26.6" dx="-4.5" dy="-16">LO</tspan></text>
<text transform="translate(840.0,685) rotate(-90)" font-size="41"><tspan stroke="#000" stroke-width="0.8" font-size="44">σ</tspan> / <tspan stroke="#000" stroke-width="0.8" font-size="44" dx="2">σ</tspan><tspan font-size="26.6" dx="-4.5" dy="-16">LO</tspan></text>
<text x="282.61" y="255.7" font-size="40.3" fill="#000" textLength="53.09" lengthAdjust="spacingAndGlyphs">LO</text>
<path d="M335.90,247.00 L371.80,247.00 M361.40,256.36 L371.80,247.00 L361.40,237.64" fill="none" stroke="#000" stroke-width="1.6" stroke-linecap="butt" stroke-linejoin="miter"/>
<text x="499.23" y="245.6" font-size="41.2" fill="#009900" textLength="229.97" lengthAdjust="spacingAndGlyphs">NLO + NNLL</text>
<text x="501.80" y="284.6" font-size="41.2" fill="#009900" textLength="214.98" lengthAdjust="spacingAndGlyphs">w./ PDF Unc.</text>
<path d="M668.20,345.00 L668.20,380.00 M658.14,370.60 L668.20,380.00 L678.26,370.60" fill="none" stroke="#009900" stroke-width="1.8" stroke-linecap="butt" stroke-linejoin="miter"/>
<text x="568.71" y="461.9" font-size="40.5" fill="#0000ff" textLength="82.53" lengthAdjust="spacingAndGlyphs">NLO</text>
<path d="M609.80,427.00 L631.70,400.40 M633.00,413.77 L631.70,400.40 L618.33,401.70" fill="none" stroke="#0000ff" stroke-width="1.8" stroke-linecap="butt" stroke-linejoin="miter"/>
<text x="125.92" y="473.5" font-size="18.6" fill="#000" textLength="103.61" lengthAdjust="spacingAndGlyphs">Mitra, et. al.,</text>
<text x="125.93" y="495.9" font-size="18.6" fill="#000" textLength="299.19" lengthAdjust="spacingAndGlyphs">PRD94, 095016 (2016) [1607.03504]</text>
<text x="196.89" y="571.0" font-size="32.0" fill="#009900" textLength="353.91" lengthAdjust="spacingAndGlyphs">NLO+NNLL w./ PDF Unc.</text>
<path d="M533.00,571.60 L552.30,591.90 M539.58,591.58 L552.30,591.90 L552.62,579.18" fill="none" stroke="#009900" stroke-width="1.6" stroke-linecap="butt" stroke-linejoin="miter"/>
<text x="491.42" y="647.7" font-size="30.0" fill="#0000ff" textLength="249.88" lengthAdjust="spacingAndGlyphs">NLO w./ PDF Unc.</text>
<text x="1185.21" y="254.9" font-size="40.5" fill="#0000ff" textLength="82.02" lengthAdjust="spacingAndGlyphs">NLO</text>
<path d="M1197.60,257.50 L1178.10,286.80 M1175.45,273.63 L1178.10,286.80 L1191.27,284.15" fill="none" stroke="#0000ff" stroke-width="1.8" stroke-linecap="butt" stroke-linejoin="miter"/>
<text x="1123.31" y="379.7" font-size="40.3" fill="#000" textLength="53.19" lengthAdjust="spacingAndGlyphs">LO</text>
<path d="M1179.70,353.60 L1204.20,328.60 M1204.34,342.03 L1204.20,328.60 L1190.77,328.74" fill="none" stroke="#000" stroke-width="1.8" stroke-linecap="butt" stroke-linejoin="miter"/>
<text x="1296.44" y="305.6" font-size="41.2" fill="#009900" textLength="229.36" lengthAdjust="spacingAndGlyphs">NLO + NNLL</text>
<text x="1299.30" y="345.7" font-size="41.2" fill="#009900" textLength="216.19" lengthAdjust="spacingAndGlyphs">w./ PDF Unc.</text>
<path d="M1410.50,349.40 L1403.20,382.20 M1395.99,370.86 L1403.20,382.20 L1414.54,374.99" fill="none" stroke="#009900" stroke-width="1.8" stroke-linecap="butt" stroke-linejoin="miter"/>
<text x="912.76" y="572.4" font-size="31.0" fill="#009900" textLength="353.28" lengthAdjust="spacingAndGlyphs">NLO+NNLL w/. PDF Unc.</text>
<path d="M920.60,583.30 L920.60,611.30 M913.00,603.30 L920.60,611.30 L928.20,603.30" fill="none" stroke="#009900" stroke-width="1.6" stroke-linecap="butt" stroke-linejoin="miter"/>
<text x="1131.36" y="598.5" font-size="31.0" fill="#0000ff" textLength="251.00" lengthAdjust="spacingAndGlyphs">NLO w/. PDF Unc.</text>
<path d="M1257.00,602.00 L1281.00,616.00 M1268.69,619.24 L1281.00,616.00 L1277.76,603.69" fill="none" stroke="#0000ff" stroke-width="1.6" stroke-linecap="butt" stroke-linejoin="miter"/>
</svg>
</body></html>
